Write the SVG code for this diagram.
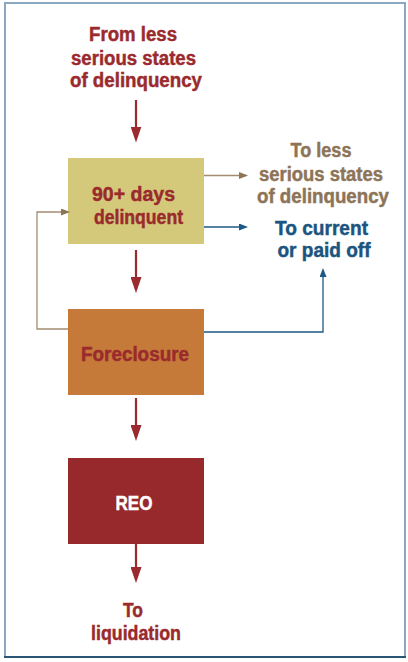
<svg xmlns="http://www.w3.org/2000/svg" width="408" height="662" viewBox="0 0 408 662">
<style>
text{font-family:"Liberation Sans",Arial,sans-serif;font-weight:bold;font-size:19.5px;text-anchor:middle;stroke-width:0.45px}
.red{fill:#9a2a2d;stroke:#9a2a2d}
.tan{fill:#8d7457;stroke:#8d7457}
.blue{fill:#1c5480;stroke:#1c5480}
.white{fill:#ffffff;stroke:#ffffff}
.lr{fill:none;stroke:#9a2a2d;stroke-width:2.2}
.lt{fill:none;stroke:#a38d72;stroke-width:1.3}
.lb{fill:none;stroke:#1d5a86;stroke-width:1.3}
</style>
<defs>
<marker id="ar" markerUnits="userSpaceOnUse" markerWidth="16" markerHeight="11" refX="12" refY="5.5" orient="auto"><path d="M0,0 L16,5.5 L0,11 z" fill="#9a2a2d"/></marker>
<marker id="at" markerUnits="userSpaceOnUse" markerWidth="9" markerHeight="7" refX="7" refY="3.5" orient="auto"><path d="M0,0 L9,3.5 L0,7 z" fill="#8d7457"/></marker>
<marker id="ab" markerUnits="userSpaceOnUse" markerWidth="9" markerHeight="7" refX="7" refY="3.5" orient="auto"><path d="M0,0 L9,3.5 L0,7 z" fill="#1d5a86"/></marker>
</defs>
<rect x="0" y="0" width="408" height="662" fill="#ffffff"/>
<rect x="5" y="3" width="400" height="654" fill="#ffffff" stroke="#8ca8c0" stroke-width="2"/>
<line x1="4" y1="657" x2="406" y2="657" stroke="#2b5575" stroke-width="2"/>

<g id="from-label">
<text class="red" x="133" y="41" textLength="88" lengthAdjust="spacingAndGlyphs">From less</text>
<text class="red" x="133.5" y="65" textLength="125" lengthAdjust="spacingAndGlyphs">serious states</text>
<text class="red" x="136" y="87" textLength="132" lengthAdjust="spacingAndGlyphs">of delinquency</text>
</g>

<g id="node-90days">
<rect x="68" y="158" width="136" height="86" fill="#d4c97a"/>
<text class="red" x="133.5" y="200.5" textLength="83" lengthAdjust="spacingAndGlyphs">90+ days</text>
<text class="red" x="138.5" y="223.5" textLength="89" lengthAdjust="spacingAndGlyphs">delinquent</text>
</g>

<g id="node-foreclosure">
<rect x="68" y="309" width="136" height="86" fill="#c57a39"/>
<text class="red" x="135" y="361" textLength="108" lengthAdjust="spacingAndGlyphs">Foreclosure</text>
</g>

<g id="node-reo">
<rect x="68" y="458" width="136" height="86" fill="#97282b"/>
<text class="white" x="134" y="510" textLength="37" lengthAdjust="spacingAndGlyphs">REO</text>
</g>

<g id="to-less-label">
<text class="tan" x="321" y="157" textLength="61" lengthAdjust="spacingAndGlyphs">To less</text>
<text class="tan" x="321" y="180.5" textLength="124" lengthAdjust="spacingAndGlyphs">serious states</text>
<text class="tan" x="323" y="203" textLength="132" lengthAdjust="spacingAndGlyphs">of delinquency</text>
</g>

<g id="to-current-label">
<text class="blue" x="321.5" y="235" textLength="93" lengthAdjust="spacingAndGlyphs">To current</text>
<text class="blue" x="324" y="257" textLength="93" lengthAdjust="spacingAndGlyphs">or paid off</text>
</g>

<g id="to-liquidation-label">
<text class="red" x="133" y="617" textLength="20" lengthAdjust="spacingAndGlyphs">To</text>
<text class="red" x="136" y="640" textLength="90" lengthAdjust="spacingAndGlyphs">liquidation</text>
</g>

<g id="connectors">
<line class="lr" x1="136" y1="100" x2="136" y2="138.5" marker-end="url(#ar)"/>
<line class="lr" x1="136" y1="250" x2="136" y2="289" marker-end="url(#ar)"/>
<line class="lr" x1="136" y1="398" x2="136" y2="437" marker-end="url(#ar)"/>
<line class="lr" x1="136" y1="544" x2="136" y2="579" marker-end="url(#ar)"/>
<line class="lt" x1="204" y1="175.5" x2="246" y2="175.5" marker-end="url(#at)"/>
<line class="lb" x1="204" y1="227" x2="246" y2="227" marker-end="url(#ab)"/>
<path class="lb" d="M204,332 H323 V270" marker-end="url(#ab)"/>
<path class="lt" d="M68,329 H37 V212 H68" marker-end="url(#at)"/>
</g>
</svg>
